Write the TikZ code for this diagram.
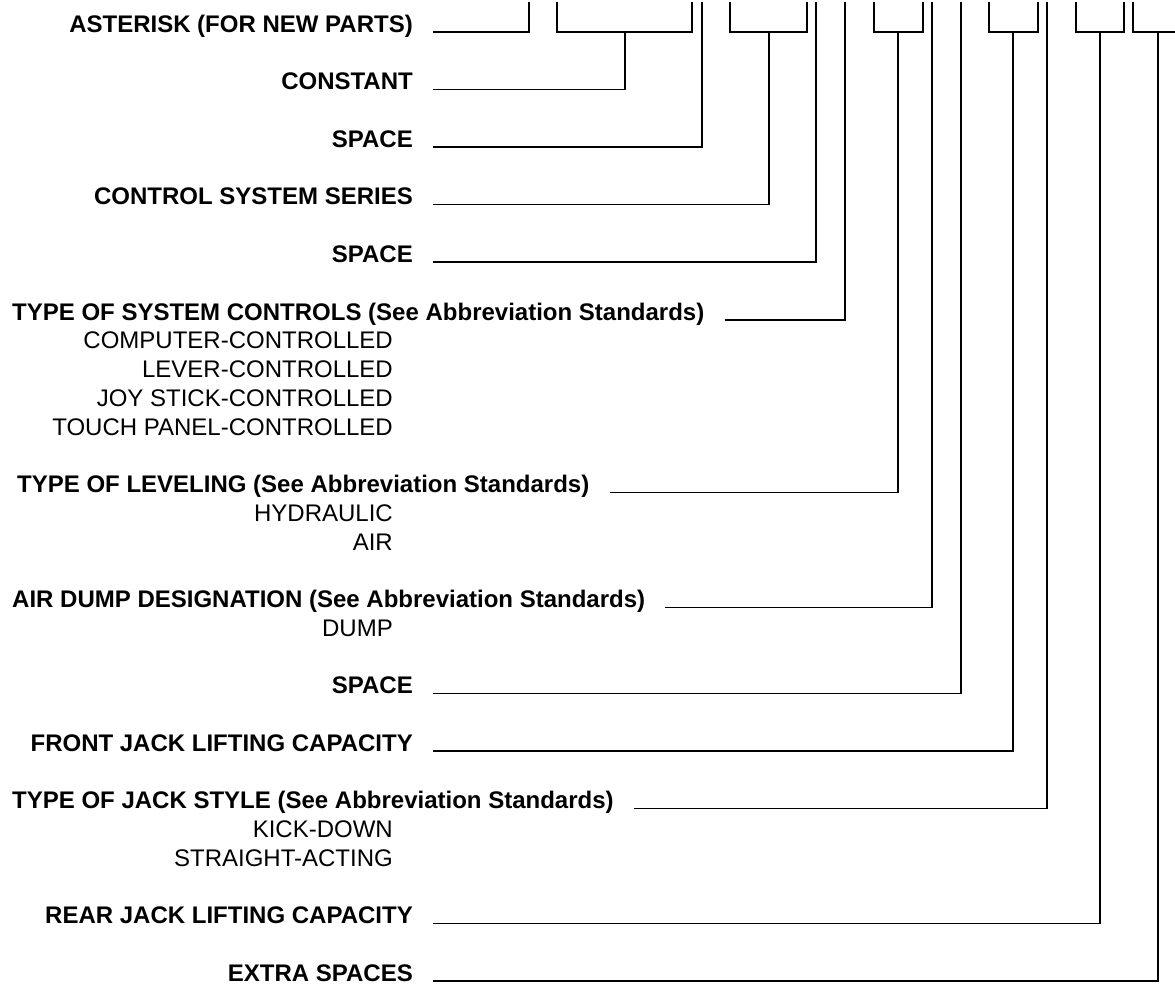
\documentclass[tikz,border=0pt]{standalone}
\usepackage{fontspec}
\setmainfont{Liberation Sans}
\usetikzlibrary{calc}
\tikzset{
  fieldlabel/.style={anchor=base east, inner sep=0pt,
    font=\bfseries\fontsize{24}{28}\selectfont},
  headlabel/.style={anchor=base west, inner sep=0pt,
    font=\bfseries\fontsize{24}{28}\selectfont},
  optlabel/.style={anchor=base east, inner sep=0pt,
    font=\fontsize{24}{28}\selectfont},
  leader/.style={line width=1.3pt, draw=black},
}

\begin{document}
\begin{tikzpicture}[x=1pt, y=-1pt]
\useasboundingbox (0,0) rectangle (1175,985);
\clip (0,0) rectangle (1175,985);

%% ─── BRACKETS ALONG THE TOP ─────────────────────────────────
\coordinate (asteriskTop) at (529,2);
\draw[leader] (557,2) |- (692,32) -- (692,2);
\coordinate (constantTop) at (625,32);
\coordinate (spaceATop) at (702,2);
\draw[leader] (730,2) |- (807,32) -- (807,2);
\coordinate (seriesTop) at (769,32);
\coordinate (spaceBTop) at (816,2);
\coordinate (controlsTop) at (845,2);
\draw[leader] (874,2) |- (923,32) -- (923,2);
\coordinate (levelingTop) at (898,32);
\coordinate (dumpTop) at (932,2);
\coordinate (spaceCTop) at (961,2);
\draw[leader] (989,2) |- (1038,32) -- (1038,2);
\coordinate (frontTop) at (1013,32);
\coordinate (jackTop) at (1047,2);
\draw[leader] (1076,2) |- (1124,32) -- (1124,2);
\coordinate (rearTop) at (1100,32);
\draw[leader] (1133,2) |- (1200,32);
\coordinate (extraTop) at (1158,32);

%% ─── FIELD LABELS ───────────────────────────────────────────
\node[fieldlabel] (asterisk) at (413,32) {ASTERISK (FOR NEW PARTS)};
\node[fieldlabel] (constant) at (413,89.5) {CONSTANT};
\node[fieldlabel] (spaceA) at (413,147) {SPACE};
\node[fieldlabel] (series) at (413,204.5) {CONTROL SYSTEM SERIES};
\node[fieldlabel] (spaceB) at (413,262) {SPACE};

\node[headlabel] (controls) at (12,320)
  {TYPE OF SYSTEM CONTROLS (See Abbreviation Standards)};
\foreach \opt/\row in {COMPUTER-CONTROLLED/1, LEVER-CONTROLLED/2,
    JOY STICK-CONTROLLED/3, TOUCH PANEL-CONTROLLED/4}{
  \node[optlabel] (controls\row) at (393,320+\row*28.75) {\opt};
}

\node[headlabel] (leveling) at (17,492.5)
  {TYPE OF LEVELING (See Abbreviation Standards)};
\foreach \opt/\row in {HYDRAULIC/1, AIR/2}{
  \node[optlabel] (leveling\row) at (393,492.5+\row*28.75) {\opt};
}

\node[headlabel] (dump) at (12,607.5)
  {AIR DUMP DESIGNATION (See Abbreviation Standards)};
\node[optlabel] (dump1) at (393,636.25) {DUMP};

\node[fieldlabel] (spaceC) at (413,693.5) {SPACE};
\node[fieldlabel] (front) at (413,751) {FRONT JACK LIFTING CAPACITY};

\node[headlabel] (jack) at (12,808.5)
  {TYPE OF JACK STYLE (See Abbreviation Standards)};
\foreach \opt/\row in {KICK-DOWN/1, STRAIGHT-ACTING/2}{
  \node[optlabel] (jack\row) at (393,808.5+\row*28.75) {\opt};
}

\node[fieldlabel] (rear) at (413,923.5) {REAR JACK LIFTING CAPACITY};
\node[fieldlabel] (extra) at (413,981) {EXTRA SPACES};

%% ─── LEADERS ────────────────────────────────────────────────
\foreach \field in {asterisk, constant, spaceA, series, spaceB,
    controls, leveling, dump, spaceC, front, jack, rear, extra}{
  \draw[leader] ([xshift=20pt]\field.base east) -| (\field Top);
}

\end{tikzpicture}
\end{document}
